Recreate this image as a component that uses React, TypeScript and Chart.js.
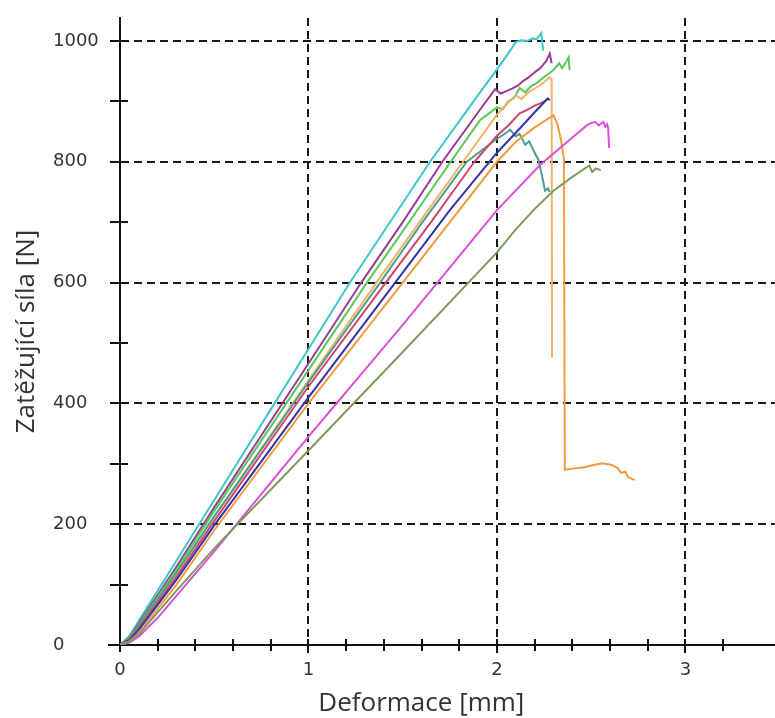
import { useEffect, useRef } from 'react';
import { Chart, registerables } from 'chart.js';

Chart.register(...registerables);

type Pt = [number, number];

// Load–deformation records, [deformation mm, force N]
const vzorek1: Pt[] = [[0, 0], [0.05, 15], [0.1, 40], [0.3, 140], [0.5, 240], [0.82, 400], [1.22, 600], [1.645, 800], [1.91, 915], [2.0, 953], [2.05, 975], [2.1, 998], [2.13, 1001], [2.16, 1000], [2.19, 1004], [2.21, 1003], [2.235, 1013], [2.245, 984]];
const vzorek2: Pt[] = [[0, 0], [0.05, 13], [0.1, 36], [0.3, 130], [0.5, 228], [1.0, 466], [1.28, 600], [1.5, 700], [1.71, 800], [1.9, 882], [1.99, 920], [2.02, 913], [2.05, 917], [2.08, 921], [2.11, 926], [2.14, 934], [2.17, 940], [2.2, 948], [2.23, 955], [2.26, 966], [2.28, 979], [2.29, 963]];
const vzorek3: Pt[] = [[0, 0], [0.05, 12], [0.1, 34], [0.3, 125], [0.5, 222], [1.0, 455], [1.31, 600], [1.5, 685], [1.75, 798], [1.91, 869], [2.0, 890], [2.03, 887], [2.06, 900], [2.09, 905], [2.12, 922], [2.15, 915], [2.18, 925], [2.21, 930], [2.24, 938], [2.27, 945], [2.3, 952], [2.33, 963], [2.345, 955], [2.36, 962], [2.38, 973], [2.385, 952]];
const vzorek4: Pt[] = [[0, 0], [0.05, 10], [0.1, 30], [0.3, 118], [0.5, 212], [1.0, 438], [1.36, 600], [1.6, 705], [1.82, 800], [2.0, 878], [2.06, 898], [2.1, 910], [2.13, 904], [2.17, 916], [2.22, 925], [2.25, 932], [2.28, 940], [2.29, 936], [2.292, 475]];
const vzorek5: Pt[] = [[0, 0], [0.05, 11], [0.1, 32], [0.3, 120], [0.5, 213], [1.0, 435], [1.38, 600], [1.6, 698], [1.84, 800], [2.0, 838], [2.04, 846], [2.07, 853], [2.1, 842], [2.12, 846], [2.15, 828], [2.17, 834], [2.2, 815], [2.22, 803], [2.24, 775], [2.255, 752], [2.27, 756], [2.28, 750]];
const vzorek6: Pt[] = [[0, 0], [0.05, 9], [0.1, 28], [0.3, 113], [0.5, 205], [1.0, 428], [1.41, 600], [1.65, 700], [1.88, 800], [2.0, 843], [2.06, 860], [2.12, 880], [2.16, 886], [2.2, 893], [2.24, 898], [2.27, 904]];
const vzorek7: Pt[] = [[0, 0], [0.05, 8], [0.1, 25], [0.3, 108], [0.5, 198], [1.0, 410], [1.46, 600], [1.75, 720], [2.0, 815], [2.1, 848], [2.2, 882], [2.27, 905], [2.28, 902]];
const vzorek8: Pt[] = [[0, 0], [0.05, 6], [0.1, 20], [0.3, 100], [0.5, 190], [1.0, 400], [1.5, 600], [1.75, 700], [2.0, 800], [2.1, 833], [2.2, 857], [2.26, 869], [2.3, 877], [2.32, 863], [2.34, 836], [2.355, 806], [2.36, 290], [2.4, 292], [2.456, 294], [2.5, 297], [2.56, 301], [2.61, 298], [2.64, 293], [2.66, 285], [2.68, 287], [2.695, 278], [2.73, 273]];
const vzorek9: Pt[] = [[0, 0], [0.05, 4], [0.1, 14], [0.2, 45], [0.5, 155], [1.0, 345], [1.5, 530], [2.0, 720], [2.23, 795], [2.4, 840], [2.48, 861], [2.5, 864], [2.52, 866], [2.54, 860], [2.555, 864], [2.565, 866], [2.575, 858], [2.585, 862], [2.59, 855], [2.595, 823]];
const vzorek10: Pt[] = [[0, 0], [0.05, 5], [0.1, 18], [0.3, 90], [0.5, 160], [1.0, 322], [1.5, 485], [2.0, 650], [2.1, 688], [2.2, 722], [2.3, 752], [2.4, 775], [2.49, 794], [2.505, 783], [2.525, 789], [2.55, 786]];

const records: Pt[][] = [vzorek10, vzorek9, vzorek8, vzorek7, vzorek6, vzorek5, vzorek4, vzorek3, vzorek2, vzorek1];
const recordNames = ['Vzorek 10', 'Vzorek 9', 'Vzorek 8', 'Vzorek 7', 'Vzorek 6', 'Vzorek 5', 'Vzorek 4', 'Vzorek 3', 'Vzorek 2', 'Vzorek 1'];
const recordColors = ['#7f9a5c', '#dc4fd8', '#f39b40', '#3434a8', '#d0456a', '#4d9e8c', '#f2b26a', '#58c858', '#9a3a98', '#3ec6c8'];

const X_MAX = 3.475;
const Y_MAX = 1038;
const X_STEP = 0.2;
const Y_STEP = 100;
const Y_LABEL_STEP = 200;

const xTitle = 'Deformace [mm]';
const yTitle = 'Zatěžující síla [N]';

const isInt = (v: number) => Math.abs(v - Math.round(v)) < 1e-6;
const isYMajor = (v: number) => Math.abs(v % Y_LABEL_STEP) < 1e-6;

const axisDecor = {
  id: 'axisDecor',
  afterDatasetsDraw(chart: any) {
    const { ctx, chartArea } = chart;
    const xs = chart.scales.x;
    const ys = chart.scales.y;
    ctx.save();
    ctx.strokeStyle = '#111';
    ctx.lineWidth = 2;
    ctx.beginPath();
    // y-axis tick marks, crossing the axis line
    for (const t of ys.ticks) {
      if (t.value > Y_MAX - 1) continue;
      const py = Math.round(ys.getPixelForValue(t.value));
      if (t.value === 0) {
        ctx.moveTo(chartArea.left - 12, py);
        ctx.lineTo(chartArea.left, py);
      } else {
        ctx.moveTo(chartArea.left - 10, py);
        ctx.lineTo(chartArea.left + 8, py);
      }
    }
    // x-axis tick marks
    for (const t of xs.ticks) {
      if (t.value > X_MAX - 0.01) continue;
      const px = Math.round(xs.getPixelForValue(t.value));
      if (t.value === 0) {
        ctx.moveTo(px, chartArea.bottom);
        ctx.lineTo(px, chartArea.bottom + 7);
      } else if (isInt(t.value)) {
        ctx.moveTo(px, chartArea.bottom - 6);
        ctx.lineTo(px, chartArea.bottom + 8);
      } else {
        ctx.moveTo(px, chartArea.bottom - 6);
        ctx.lineTo(px, chartArea.bottom + 6);
      }
    }
    ctx.stroke();
    ctx.restore();
  },
  afterDraw(chart: any) {
    const { ctx, chartArea } = chart;
    ctx.save();
    ctx.fillStyle = '#333';
    ctx.font = '26px "Open Sans"';
    ctx.textAlign = 'center';
    ctx.textBaseline = 'alphabetic';
    ctx.fillText(xTitle, chartArea.left + (chartArea.right - chartArea.left) * 0.46, 711);
    ctx.translate(34, (chartArea.top + chartArea.bottom) / 2);
    ctx.rotate(-Math.PI / 2);
    ctx.fillText(yTitle, 0, 0);
    ctx.restore();
  },
};

export default function App() {
  const ref = useRef<HTMLCanvasElement>(null);

  useEffect(() => {
    if (!ref.current) return;
    const gridColorX = (c: any) => {
      const v = c.tick?.value;
      return v !== undefined && v > 0 && v < X_MAX - 0.01 && isInt(v) ? '#1a1a1a' : 'rgba(0,0,0,0)';
    };
    const gridColorY = (c: any) => {
      const v = c.tick?.value;
      return v !== undefined && v > 0 && v < Y_MAX - 1 && isYMajor(v) ? '#1a1a1a' : 'rgba(0,0,0,0)';
    };
    const chart = new Chart(ref.current, {
      type: 'scatter',
      data: {
        datasets: records.map((r, i) => ({
          label: recordNames[i],
          data: r.map(([x, y]) => ({ x, y })),
          showLine: true,
          borderColor: recordColors[i],
          backgroundColor: recordColors[i],
          borderWidth: 2,
          pointRadius: 0,
          tension: 0,
          fill: false,
        })),
      },
      options: {
        responsive: false,
        animation: false,
        events: [],
        layout: { padding: { top: 18, left: 53, right: 0, bottom: 0 } },
        plugins: {
          legend: { display: false },
          tooltip: { enabled: false },
          title: { display: false },
        },
        scales: {
          x: {
            type: 'linear',
            min: 0,
            max: X_MAX,
            afterFit: (s: any) => { s.height = 73; },
            ticks: {
              stepSize: X_STEP,
              autoSkip: false,
              maxRotation: 0,
              padding: 0,
              color: '#333',
              font: { family: 'DejaVu Sans', size: 18, lineHeight: 2.78 },
              callback: (v: any) => (isInt(Number(v)) && Number(v) < X_MAX ? String(Math.round(Number(v))) : ''),
            },
            grid: { drawTicks: false, color: gridColorX, lineWidth: 2 },
            border: { display: true, color: '#111', width: 2, dash: [8, 5] },
          },
          y: {
            type: 'linear',
            min: 0,
            max: Y_MAX,
            afterFit: (s: any) => { s.width = 67; },
            ticks: {
              stepSize: Y_STEP,
              autoSkip: false,
              crossAlign: 'far',
              color: '#333',
              font: { family: 'DejaVu Sans', size: 18 },
              callback: (v: any) => (isYMajor(Number(v)) && Number(v) < Y_MAX ? String(v) : ''),
            },
            grid: { drawTicks: false, color: gridColorY, lineWidth: 2 },
            border: { display: true, color: '#111', width: 2, dash: [8, 5] },
          },
        },
      } as any,
      plugins: [axisDecor],
    });
    return () => chart.destroy();
  }, []);

  return (
    <div style={{ position: 'absolute', left: 0, top: 0, width: 775, height: 718, background: '#fff' }}>
      <canvas ref={ref} width={775} height={718} style={{ display: 'block' }} />
    </div>
  );
}
